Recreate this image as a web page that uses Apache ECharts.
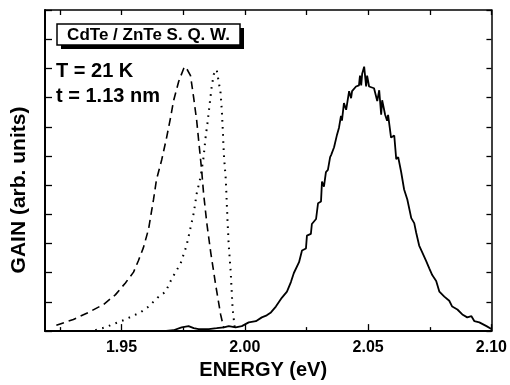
<!DOCTYPE html>
<html>
<head>
<meta charset="utf-8">
<script src="https://cdn.jsdelivr.net/npm/echarts@6/dist/echarts.min.js"></script>
<style>
  html, body { margin: 0; padding: 0; background: #fff; }
  #chart { width: 510px; height: 385px; }
</style>
</head>
<body>
<div id="chart"></div>
<script>
const X_MIN = 1.919;
const X_MAX = 2.1;
const X_MAJOR = [1.95, 2.0, 2.05, 2.1];
const X_MINOR = [1.925, 1.975, 2.025, 2.075];
const Y_TICKS = [0, 1, 2, 3, 4, 5, 6, 7, 8, 9, 10, 11];

// dashed curve [energy eV, gain]
const dashedData = [
  [1.9236, 0.20], [1.9305, 0.40], [1.9366, 0.64], [1.9427, 0.91], [1.9476, 1.25],
  [1.9516, 1.65], [1.9549, 2.02], [1.9569, 2.42], [1.9589, 2.86], [1.9610, 3.50],
  [1.9630, 4.51], [1.9642, 5.19], [1.9663, 5.86], [1.9683, 6.63], [1.9699, 7.31],
  [1.9711, 7.88], [1.9732, 8.55], [1.9752, 8.99], [1.9760, 9.06], [1.9780, 8.75],
  [1.9793, 7.98], [1.9805, 7.21], [1.9813, 6.53], [1.9825, 5.52], [1.9833, 4.71],
  [1.9846, 3.70], [1.9862, 2.69], [1.9882, 1.58], [1.9902, 0.57], [1.9915, 0.10]
];

// dotted curve
const dottedData = [
  [1.9394, 0.03], [1.9435, 0.13], [1.9467, 0.24], [1.9508, 0.37], [1.9577, 0.64],
  [1.9610, 0.84], [1.9646, 1.14], [1.9679, 1.35], [1.9703, 1.78], [1.9740, 2.32],
  [1.9764, 2.93], [1.9780, 3.54], [1.9793, 4.04], [1.9805, 4.71], [1.9821, 5.29],
  [1.9833, 5.96], [1.9841, 6.63], [1.9850, 7.21], [1.9858, 7.81], [1.9866, 8.38],
  [1.9874, 8.79], [1.9886, 8.96], [1.9894, 8.55], [1.9902, 8.15], [1.9907, 7.54],
  [1.9911, 6.87], [1.9915, 6.06], [1.9923, 5.19], [1.9927, 4.38], [1.9931, 3.60],
  [1.9935, 2.93], [1.9943, 2.02], [1.9947, 1.35], [1.9951, 0.74], [1.9959, 0.13]
];

// solid (noisy) curve
const solidData = [
  [1.9671, 0.00], [1.9711, 0.03], [1.9744, 0.13], [1.9772, 0.17], [1.9793, 0.10],
  [1.9813, 0.07], [1.9854, 0.07], [1.9886, 0.10], [1.9915, 0.13], [1.9935, 0.17],
  [1.9963, 0.13], [1.9988, 0.17], [2.0016, 0.30], [2.0045, 0.34], [2.0069, 0.47],
  [2.0089, 0.54], [2.0106, 0.64], [2.0126, 0.84], [2.0150, 1.14], [2.0171, 1.35],
  [2.0187, 1.68], [2.0199, 1.99], [2.0220, 2.36], [2.0232, 2.76], [2.0248, 2.83],
  [2.0252, 3.27], [2.0268, 3.33], [2.0272, 3.67], [2.0289, 3.84], [2.0297, 4.38],
  [2.0309, 4.44], [2.0313, 5.12], [2.0321, 4.95], [2.0329, 5.45], [2.0337, 5.52],
  [2.0346, 5.96], [2.0350, 6.03], [2.0362, 6.30], [2.0374, 6.73], [2.0382, 6.97],
  [2.0390, 7.37], [2.0394, 7.21], [2.0402, 7.81], [2.0411, 7.58], [2.0423, 8.22],
  [2.0431, 7.98], [2.0435, 8.22], [2.0451, 8.38], [2.0463, 8.42], [2.0467, 8.75],
  [2.0472, 8.42], [2.0476, 8.82], [2.0484, 9.06], [2.0492, 8.38], [2.0496, 8.75],
  [2.0504, 8.38], [2.0512, 8.38], [2.0524, 8.32], [2.0537, 7.88], [2.0545, 8.25],
  [2.0553, 7.41], [2.0557, 7.91], [2.0569, 7.41], [2.0577, 7.21], [2.0581, 7.41],
  [2.0593, 6.63], [2.0606, 6.70], [2.0614, 5.89], [2.0622, 5.96], [2.0634, 5.45],
  [2.0646, 4.85], [2.0659, 4.51], [2.0675, 3.87], [2.0687, 3.70], [2.0695, 3.37],
  [2.0707, 2.93], [2.0720, 2.69], [2.0736, 2.39], [2.0748, 2.15], [2.0760, 1.92],
  [2.0776, 1.72], [2.0789, 1.35], [2.0809, 1.18], [2.0829, 1.04], [2.0841, 0.84],
  [2.0862, 0.74], [2.0882, 0.57], [2.0902, 0.47], [2.0919, 0.51], [2.0931, 0.34],
  [2.0951, 0.30], [2.0980, 0.17], [2.1000, 0.07]
];

const FONT = '"Liberation Sans", Arial, sans-serif';

const chart = echarts.init(document.getElementById('chart'));

const baseX = {
  type: 'value',
  min: X_MIN,
  max: X_MAX,
  splitLine: { show: false },
  axisLine: { show: false },
  axisLabel: { show: false },
  axisTick: { show: false }
};

chart.setOption({
  animation: false,
  backgroundColor: '#fff',
  textStyle: { fontFamily: FONT },
  grid: { left: 45, right: 17, top: 10, bottom: 48 },
  xAxis: [
    {
      ...baseX,
      position: 'bottom',
      axisLine: { show: true, onZero: false, lineStyle: { color: '#000', width: 2 } },
      axisTick: { show: true, inside: true, length: 7, customValues: X_MAJOR, lineStyle: { color: '#000', width: 1.3 } },
      axisLabel: {
        show: true,
        customValues: X_MAJOR,
        formatter: (v) => v.toFixed(2),
        color: '#000',
        fontFamily: FONT,
        fontWeight: 'bold',
        fontSize: 16,
        margin: 8
      },
      name: 'ENERGY (eV)',
      nameLocation: 'middle',
      nameGap: 26,
      nameTextStyle: { color: '#000', fontFamily: FONT, fontWeight: 'bold', fontSize: 20, padding: [0, 10, 0, 0] }
    },
    {
      ...baseX,
      position: 'bottom',
      axisTick: { show: true, inside: true, length: 4, customValues: X_MINOR, lineStyle: { color: '#000', width: 1.3 } }
    },
    {
      ...baseX,
      position: 'top',
      axisLine: { show: true, onZero: false, lineStyle: { color: '#000', width: 1.5 } },
      axisTick: { show: true, inside: true, length: 5, customValues: X_MAJOR.concat(X_MINOR), lineStyle: { color: '#000', width: 1.3 } }
    }
  ],
  yAxis: [
    {
      type: 'value',
      min: Y_TICKS[0],
      max: Y_TICKS[Y_TICKS.length - 1],
      interval: 1,
      position: 'left',
      splitLine: { show: false },
      axisLine: { show: true, onZero: false, lineStyle: { color: '#000', width: 2 } },
      axisTick: { show: true, inside: true, length: 7, lineStyle: { color: '#000', width: 1.3 } },
      axisLabel: { show: false }
    },
    {
      type: 'value',
      min: Y_TICKS[0],
      max: Y_TICKS[Y_TICKS.length - 1],
      interval: 1,
      position: 'right',
      splitLine: { show: false },
      axisLine: { show: true, onZero: false, lineStyle: { color: '#000', width: 1.5 } },
      axisTick: { show: true, inside: true, length: 5, lineStyle: { color: '#000', width: 1.3 } },
      axisLabel: { show: false }
    }
  ],
  graphic: [
    { type: 'rect', shape: { x: 61, y: 28, width: 183, height: 21 }, style: { fill: '#000' } },
    { type: 'rect', shape: { x: 57, y: 24, width: 183, height: 21 }, style: { fill: '#fff', stroke: '#000', lineWidth: 1.5 } },
    {
      type: 'text', x: 148.5, y: 35,
      style: { text: 'CdTe / ZnTe S. Q. W.', fill: '#000', font: 'bold 17px ' + FONT, align: 'center', verticalAlign: 'middle' }
    },
    {
      type: 'text', x: 56, y: 71,
      style: { text: 'T = 21 K', fill: '#000', font: 'bold 20px ' + FONT, align: 'left', verticalAlign: 'middle' }
    },
    {
      type: 'text', x: 56, y: 96,
      style: { text: 't = 1.13 nm', fill: '#000', font: 'bold 20px ' + FONT, align: 'left', verticalAlign: 'middle' }
    },
    {
      type: 'text', x: 19, y: 190, rotation: Math.PI / 2,
      style: { text: 'GAIN (arb. units)', fill: '#000', font: 'bold 21px ' + FONT, align: 'center', verticalAlign: 'middle' }
    }
  ],
  series: [
    {
      name: 'dashed',
      type: 'line',
      data: dashedData,
      showSymbol: false,
      lineStyle: { color: '#000', width: 1.6, type: [8, 5] }
    },
    {
      name: 'dotted',
      type: 'line',
      data: dottedData,
      showSymbol: false,
      lineStyle: { color: '#000', width: 2, type: [1.6, 5.5] }
    },
    {
      name: 'solid',
      type: 'line',
      data: solidData,
      showSymbol: false,
      lineStyle: { color: '#000', width: 1.8 }
    }
  ]
});
</script>
</body>
</html>
